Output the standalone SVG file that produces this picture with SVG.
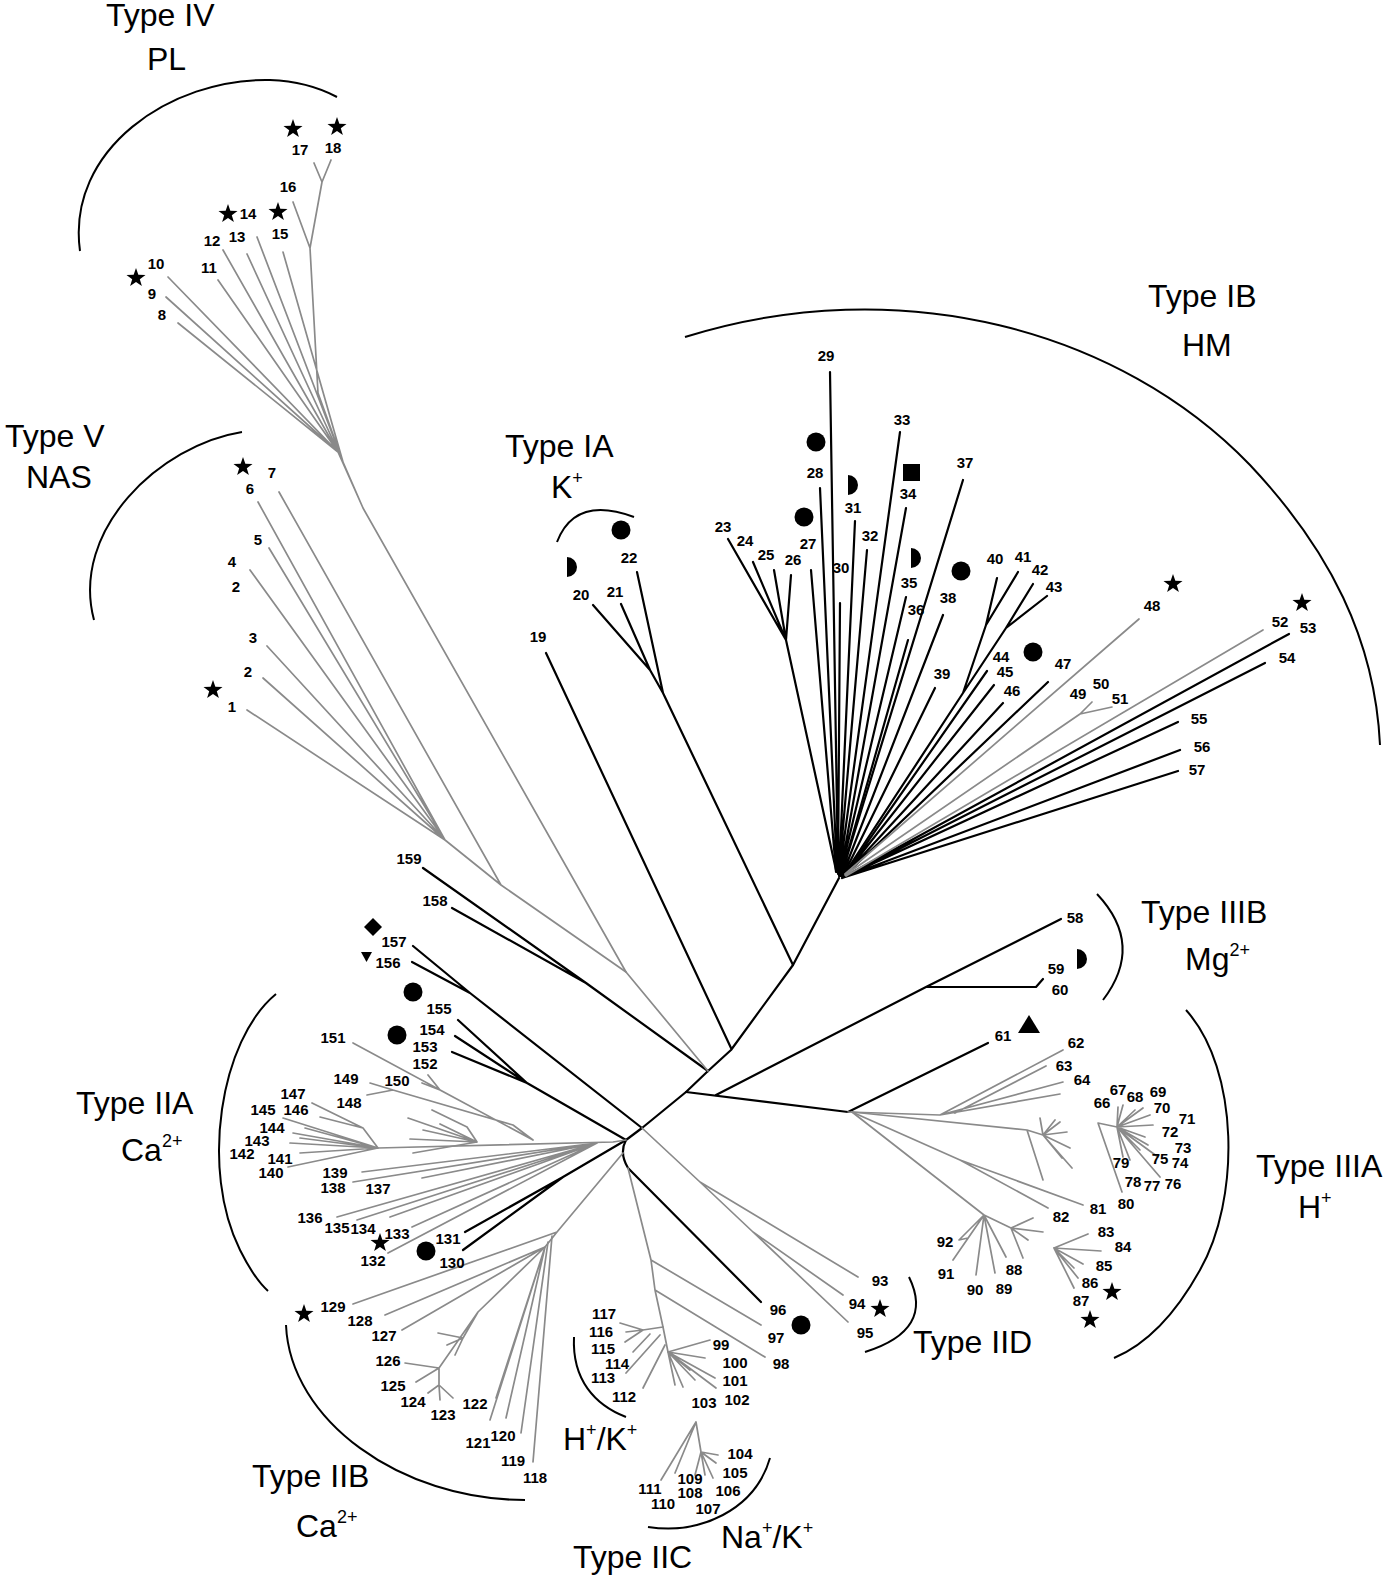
<svg xmlns="http://www.w3.org/2000/svg" width="1388" height="1579" viewBox="0 0 1388 1579">
<style>
.k{fill:none;stroke:#000;stroke-width:2.2;stroke-linecap:round;stroke-linejoin:round}
.g{fill:none;stroke:#8a8a8a;stroke-width:1.7;stroke-linecap:round;stroke-linejoin:round}
.br{fill:none;stroke:#000;stroke-width:2}
.n{font-family:"Liberation Sans",Arial,sans-serif;font-size:15px;font-weight:bold;text-anchor:middle;fill:#000}
.t{font-family:"Liberation Sans",Arial,sans-serif;font-size:32px;fill:#000}
.s{font-size:18px}
</style>
<defs>
<path id="star" d="M0,-10 L2.35,-3.24 L9.51,-3.09 L3.8,1.24 L5.88,8.09 L0,4 L-5.88,8.09 L-3.8,1.24 L-9.51,-3.09 L-2.35,-3.24 Z" fill="#000"/>
<circle id="dot" r="9.5" fill="#000"/>
<path id="half" d="M0,-10 A10,10 0 0 1 0,10 Z" fill="#000"/>
</defs>
<rect width="1388" height="1579" fill="#fff"/>

<g id="connectors">
<!-- backbone -->
<path class="k" d="M839,878 L793,965 L731,1050 L708,1071 L686,1092 L642,1128 L626,1140 Q619,1153 628,1168 L761,1302"/>
<path class="k" d="M686,1092 L848,1112 L988,1043"/>
<path class="k" d="M716,1095 L926,987 L1061,919 M926,987 L1036,987 L1043,979"/>
<path class="k" d="M546,653 L731,1048"/>
<path class="k" d="M663,693 L793,965 M593,605 L650,670 L663,693 M621,604 L650,670 M637,572 L663,693"/>
<path class="k" d="M423,868 L586,983 M452,908 L586,983 L708,1071"/>
<path class="k" d="M413,946 L470,993 M412,962 L470,993 L642,1128"/>
<path class="k" d="M458,1020 L527,1083 M455,1036 L527,1083 M452,1052 L527,1083 L626,1140"/>
<path class="k" d="M465,1232 L563,1177 M463,1250 L563,1177 L626,1140"/>
<!-- IB black -->
<path class="k" d="M728,539 L786,640 M753,562 L786,640 M774,570 L786,640 M791,575 L786,640 L836,870"/>
<path class="k" d="M811,570 L836,872 M820,488 L837,872 M830,372 L838,874 M840,603 L838,874 M855,521 L839,874 M867,550 L839,874 M900,432 L839,876 M906,508 L840,876 M906,597 L840,876 M908,640 L841,876"/>
<path class="k" d="M963,480 L841,876 M943,615 L842,876 M935,688 L843,876"/>
<path class="k" d="M997,578 L986,625 M1018,572 L986,625 M1033,584 L1006,628 M1047,596 L1006,628 M986,625 L963,693 M1006,628 L963,693 L843,876"/>
<path class="k" d="M987,671 L843,877 M994,685 L843,877 M1003,703 L843,877 M1048,682 L843,877"/>
<path class="k" d="M1289,634 L842,878 M1265,663 L842,878 M1178,722 L842,878 M1180,750 L842,878 M1178,771 L842,878"/>
<!-- IB gray -->
<path class="g" d="M1139,619 L845,874 M1092,702 L1080,714 M1112,707 L1080,714 L845,875 M1263,630 L846,876"/>
<!-- Type IV -->
<path class="g" d="M178,323 L338,452 M166,297 L338,452 M168,277 L338,452 M218,280 L338,452 M223,250 L338,452 M247,254 L343,462 M257,237 L343,462 M283,252 L343,462 M293,202 L310,248 M314,163 L322,182 L331,160 M322,182 L310,248 L318,393 L343,462 M338,452 L363,508 M343,462 L363,508 L626,972"/>
<!-- Type V -->
<path class="g" d="M279,492 L501,885 M258,502 L445,840 M269,548 L445,840 M250,570 L445,840 M267,646 L445,840 M263,678 L445,840 M247,710 L445,840 L501,885 L626,972 L708,1071"/>
<!-- IIA -->
<path class="g" d="M378,1148 L613,1142 L626,1140 M353,1043 L533,1140 M428,1075 L440,1090 M422,1083 L440,1090 L533,1140 M370,1083 L393,1090 M367,1095 L393,1090 L513,1125 L533,1140"/>
<path class="g" d="M312,1103 L363,1128 L378,1148 M320,1117 L363,1128 M283,1118 L378,1148 M293,1133 L378,1148 M300,1138 L378,1148 M290,1143 L378,1148 M300,1153 L378,1148 M288,1167 L378,1148 M305,1128 L378,1148"/>
<path class="g" d="M477,1142 L408,1118 M467,1127 L432,1110 M477,1142 L467,1127 M477,1142 L423,1130 M477,1142 L410,1139 M477,1142 L413,1153 M477,1142 L440,1124"/>
<path class="g" d="M362,1172 L597,1143 M353,1182 L597,1143 M422,1178 L597,1143 M337,1217 L597,1143 M357,1220 L597,1143 M390,1217 L597,1143 M412,1227 L597,1143 M388,1253 L597,1143"/>
<!-- IIB -->
<path class="g" d="M623,1153 L557,1232 L353,1304 M557,1232 L545,1247 L385,1315 M545,1247 L402,1330 M545,1247 L478,1312 L463,1338 M438,1333 L463,1338 M447,1345 L463,1338 M455,1355 L463,1338 M478,1312 L439,1368 M405,1363 L439,1368 M416,1382 L439,1368 L439,1385 M428,1393 L439,1385 M440,1400 L439,1385 M453,1398 L439,1385"/>
<path class="g" d="M496,1398 L545,1247 M490,1420 L545,1247 M506,1418 L545,1247 M521,1433 L548,1242 M533,1462 L552,1236"/>
<!-- IIC -->
<path class="g" d="M628,1168 L651,1260 L655,1290 L663,1327 L668,1352 M651,1260 L761,1325 M655,1290 L765,1357"/>
<path class="g" d="M620,1323 L643,1330 L663,1327 M626,1332 L643,1330 M625,1342 L643,1330 M633,1352 L650,1334 M626,1373 L660,1335 M643,1388 L665,1345"/>
<path class="g" d="M668,1352 L710,1340 M668,1352 L705,1358 M668,1352 L715,1378 M668,1352 L716,1388 M668,1352 L675,1385 M668,1352 L683,1387 M668,1352 L695,1380 M668,1352 L690,1370"/>
<path class="g" d="M696,1422 L661,1480 M696,1422 L675,1473 M696,1422 L701,1452 L718,1455 M701,1452 L716,1463 M701,1452 L713,1478 M701,1452 L705,1475 M701,1452 L695,1475"/>
<!-- IID -->
<path class="g" d="M642,1128 L700,1182 L858,1277 M700,1182 L753,1232 L843,1295 M753,1232 L848,1322"/>
<!-- IIIA -->
<path class="g" d="M848,1112 L940,1115 L1063,1050 M955,1113 L1046,1066 M940,1115 L1063,1082 M940,1115 L1060,1094"/>
<path class="g" d="M852,1112 L1027,1130 L1043,1135 M1027,1130 L1043,1180 M1043,1135 L1060,1122 M1043,1135 L1067,1132 M1043,1135 L1070,1148 M1043,1135 L1072,1168 M1043,1135 L1040,1118 M1043,1135 L1055,1120 M1043,1135 L1062,1158"/>
<path class="g" d="M852,1112 L960,1160 L1083,1205 M960,1160 L1048,1208"/>
<path class="g" d="M852,1112 L984,1215 L953,1260 M984,1215 L959,1240 L968,1238 M984,1215 L976,1275 M984,1215 L995,1273 M984,1215 L1006,1257 M984,1215 L1011,1228 L1033,1218 M1011,1228 L1043,1232 M1011,1228 L1028,1240 M1011,1228 L1023,1258"/>
<path class="g" d="M1054,1248 L1088,1234 M1054,1248 L1101,1251 M1054,1248 L1083,1264 M1054,1248 L1074,1268 M1054,1248 L1074,1288 M1054,1248 L1078,1278"/>
<path class="g" d="M1098,1123 L1122,1192 M1098,1123 L1117,1127 L1118,1107 M1117,1127 L1123,1105 M1117,1127 L1143,1108 M1117,1127 L1153,1125 M1117,1127 L1145,1137 M1117,1127 L1158,1157 M1117,1127 L1160,1177 M1117,1127 L1140,1150 M1117,1127 L1130,1160 M1117,1127 L1123,1157 M1117,1127 L1135,1110 M1117,1127 L1150,1115 M1117,1127 L1148,1145"/>
</g>

<g id="brackets">
<path class="br" d="M80,251 C66,150 170,78 270,80 C300,81 320,88 337,97"/>
<path class="br" d="M242,432 C160,445 70,530 94,620"/>
<path class="br" d="M557,542 Q575,495 634,517"/>
<path class="br" d="M685,337 C900,270 1120,330 1250,465 C1330,550 1375,640 1380,745"/>
<path class="br" d="M1097,894 Q1145,945 1103,1000"/>
<path class="br" d="M1186,1010 C1240,1070 1240,1200 1200,1270 C1175,1315 1145,1345 1114,1358"/>
<path class="br" d="M909,1277 Q935,1330 865,1352"/>
<path class="br" d="M276,994 C220,1040 200,1170 240,1250 C250,1270 258,1282 268,1291"/>
<path class="br" d="M286,1325 C290,1420 400,1500 525,1500"/>
<path class="br" d="M574,1337 C572,1380 595,1405 626,1417"/>
<path class="br" d="M770,1458 C755,1510 700,1535 648,1527"/>
</g>

<g id="clade-IV">
<text class="t" x="106" y="26">Type IV</text>
<text class="t" x="147" y="70">PL</text>
<use href="#star" x="293" y="129"/><use href="#star" x="337" y="127"/><use href="#star" x="228" y="214"/><use href="#star" x="278" y="212"/><use href="#star" x="136" y="278"/>
<text class="n" x="162" y="320">8</text><text class="n" x="152" y="299">9</text><text class="n" x="156" y="269">10</text><text class="n" x="209" y="273">11</text><text class="n" x="212" y="246">12</text><text class="n" x="237" y="242">13</text><text class="n" x="248" y="219">14</text><text class="n" x="280" y="239">15</text><text class="n" x="288" y="192">16</text><text class="n" x="300" y="155">17</text><text class="n" x="333" y="153">18</text>
</g>

<g id="clade-V">
<text class="t" x="5" y="447">Type V</text>
<text class="t" x="26" y="488">NAS</text>
<use href="#star" x="243" y="467"/><use href="#star" x="213" y="690"/>
<text class="n" x="232" y="712">1</text><text class="n" x="248" y="677">2</text><text class="n" x="253" y="643">3</text><text class="n" x="236" y="592">2</text><text class="n" x="232" y="567">4</text><text class="n" x="258" y="545">5</text><text class="n" x="250" y="494">6</text><text class="n" x="272" y="478">7</text>
</g>

<g id="clade-IA">
<text class="t" x="505" y="457">Type IA</text>
<text class="t" x="551" y="498">K<tspan class="s" dy="-14">+</tspan></text>
<use href="#dot" x="621" y="530"/><use href="#half" x="567" y="567"/>
<text class="n" x="538" y="642">19</text><text class="n" x="581" y="600">20</text><text class="n" x="615" y="597">21</text><text class="n" x="629" y="563">22</text>
</g>

<g id="clade-IB">
<text class="t" x="1148" y="307">Type IB</text>
<text class="t" x="1182" y="356">HM</text>
<use href="#dot" x="816" y="442"/><use href="#dot" x="804" y="517"/><use href="#dot" x="961" y="571"/><use href="#dot" x="1033" y="652"/>
<use href="#half" x="848" y="485"/><use href="#half" x="911" y="558"/>
<rect x="903" y="464" width="17" height="17" fill="#000"/>
<use href="#star" x="1173" y="584"/><use href="#star" x="1302" y="603"/>
<text class="n" x="723" y="532">23</text><text class="n" x="745" y="546">24</text><text class="n" x="766" y="560">25</text><text class="n" x="793" y="565">26</text><text class="n" x="808" y="549">27</text><text class="n" x="815" y="478">28</text><text class="n" x="826" y="361">29</text><text class="n" x="841" y="573">30</text><text class="n" x="853" y="513">31</text><text class="n" x="870" y="541">32</text><text class="n" x="902" y="425">33</text><text class="n" x="908" y="499">34</text><text class="n" x="909" y="588">35</text><text class="n" x="916" y="615">36</text><text class="n" x="965" y="468">37</text><text class="n" x="948" y="603">38</text><text class="n" x="942" y="679">39</text><text class="n" x="995" y="564">40</text><text class="n" x="1023" y="562">41</text><text class="n" x="1040" y="575">42</text><text class="n" x="1054" y="592">43</text><text class="n" x="1001" y="662">44</text><text class="n" x="1005" y="677">45</text><text class="n" x="1012" y="696">46</text><text class="n" x="1063" y="669">47</text><text class="n" x="1152" y="611">48</text><text class="n" x="1078" y="699">49</text><text class="n" x="1101" y="689">50</text><text class="n" x="1120" y="704">51</text><text class="n" x="1280" y="627">52</text><text class="n" x="1308" y="633">53</text><text class="n" x="1287" y="663">54</text><text class="n" x="1199" y="724">55</text><text class="n" x="1202" y="752">56</text><text class="n" x="1197" y="775">57</text>
</g>

<g id="clade-IIIB">
<text class="t" x="1141" y="923">Type IIIB</text>
<text class="t" x="1185" y="970">Mg<tspan class="s" dy="-14">2+</tspan></text>
<use href="#half" x="1077" y="959"/>
<text class="n" x="1075" y="923">58</text><text class="n" x="1056" y="974">59</text><text class="n" x="1060" y="995">60</text>
</g>

<g id="clade-IIIA">
<text class="t" x="1256" y="1177">Type IIIA</text>
<text class="t" x="1298" y="1218">H<tspan class="s" dy="-14">+</tspan></text>
<path d="M1029,1015 L1040,1033 L1018,1033 Z" fill="#000"/>
<use href="#star" x="1112" y="1292"/><use href="#star" x="1090" y="1320"/>
<text class="n" x="1003" y="1041">61</text><text class="n" x="1076" y="1048">62</text><text class="n" x="1064" y="1071">63</text><text class="n" x="1082" y="1085">64</text><text class="n" x="1102" y="1108">66</text><text class="n" x="1118" y="1095">67</text><text class="n" x="1135" y="1102">68</text><text class="n" x="1158" y="1097">69</text><text class="n" x="1162" y="1113">70</text><text class="n" x="1187" y="1124">71</text><text class="n" x="1170" y="1137">72</text><text class="n" x="1183" y="1153">73</text><text class="n" x="1180" y="1168">74</text><text class="n" x="1160" y="1164">75</text><text class="n" x="1173" y="1189">76</text><text class="n" x="1152" y="1191">77</text><text class="n" x="1133" y="1187">78</text><text class="n" x="1121" y="1168">79</text><text class="n" x="1126" y="1209">80</text><text class="n" x="1098" y="1214">81</text><text class="n" x="1061" y="1222">82</text><text class="n" x="1106" y="1237">83</text><text class="n" x="1123" y="1252">84</text><text class="n" x="1104" y="1271">85</text><text class="n" x="1090" y="1288">86</text><text class="n" x="1081" y="1306">87</text><text class="n" x="1014" y="1275">88</text><text class="n" x="1004" y="1294">89</text><text class="n" x="975" y="1295">90</text><text class="n" x="946" y="1279">91</text><text class="n" x="945" y="1247">92</text>
</g>

<g id="clade-IID">
<text class="t" x="913" y="1353">Type IID</text>
<use href="#star" x="880" y="1309"/><use href="#dot" x="801" y="1325"/>
<text class="n" x="880" y="1286">93</text><text class="n" x="857" y="1309">94</text><text class="n" x="865" y="1338">95</text><text class="n" x="778" y="1315">96</text><text class="n" x="776" y="1343">97</text><text class="n" x="781" y="1369">98</text>
</g>

<g id="clade-IIC">
<text class="t" x="573" y="1568">Type IIC</text>
<text class="t" x="563" y="1450">H<tspan class="s" dy="-14">+</tspan><tspan dy="14">/K</tspan><tspan class="s" dy="-14">+</tspan></text>
<text class="t" x="721" y="1548">Na<tspan class="s" dy="-14">+</tspan><tspan dy="14">/K</tspan><tspan class="s" dy="-14">+</tspan></text>
<text class="n" x="721" y="1350">99</text><text class="n" x="735" y="1368">100</text><text class="n" x="735" y="1386">101</text><text class="n" x="737" y="1405">102</text><text class="n" x="704" y="1408">103</text><text class="n" x="740" y="1459">104</text><text class="n" x="735" y="1478">105</text><text class="n" x="728" y="1496">106</text><text class="n" x="708" y="1514">107</text><text class="n" x="690" y="1498">108</text><text class="n" x="690" y="1484">109</text><text class="n" x="663" y="1509">110</text><text class="n" x="650" y="1494">111</text><text class="n" x="624" y="1402">112</text><text class="n" x="603" y="1383">113</text><text class="n" x="617" y="1369">114</text><text class="n" x="603" y="1354">115</text><text class="n" x="601" y="1337">116</text><text class="n" x="604" y="1319">117</text>
</g>

<g id="clade-IIB">
<text class="t" x="252" y="1487">Type IIB</text>
<text class="t" x="296" y="1537">Ca<tspan class="s" dy="-14">2+</tspan></text>
<use href="#star" x="304" y="1314"/>
<text class="n" x="535" y="1483">118</text><text class="n" x="513" y="1466">119</text><text class="n" x="503" y="1441">120</text><text class="n" x="478" y="1448">121</text><text class="n" x="475" y="1409">122</text><text class="n" x="443" y="1420">123</text><text class="n" x="413" y="1407">124</text><text class="n" x="393" y="1391">125</text><text class="n" x="388" y="1366">126</text><text class="n" x="384" y="1341">127</text><text class="n" x="360" y="1326">128</text><text class="n" x="333" y="1312">129</text>
</g>

<g id="clade-IIA">
<text class="t" x="76" y="1114">Type IIA</text>
<text class="t" x="121" y="1161">Ca<tspan class="s" dy="-14">2+</tspan></text>
<use href="#star" x="380" y="1243"/><use href="#dot" x="426" y="1251"/><use href="#dot" x="413" y="992"/><use href="#dot" x="397" y="1035"/>
<path d="M373,918 L382,927 L373,936 L364,927 Z" fill="#000"/>
<path d="M361,952 L372,952 L366.5,962 Z" fill="#000"/>
<text class="n" x="452" y="1268">130</text><text class="n" x="448" y="1244">131</text><text class="n" x="373" y="1266">132</text><text class="n" x="397" y="1239">133</text><text class="n" x="363" y="1234">134</text><text class="n" x="337" y="1233">135</text><text class="n" x="310" y="1223">136</text><text class="n" x="378" y="1194">137</text><text class="n" x="333" y="1193">138</text><text class="n" x="335" y="1178">139</text><text class="n" x="271" y="1178">140</text><text class="n" x="280" y="1164">141</text><text class="n" x="242" y="1159">142</text><text class="n" x="257" y="1146">143</text><text class="n" x="272" y="1133">144</text><text class="n" x="263" y="1115">145</text><text class="n" x="296" y="1115">146</text><text class="n" x="293" y="1099">147</text><text class="n" x="349" y="1108">148</text><text class="n" x="346" y="1084">149</text><text class="n" x="397" y="1086">150</text><text class="n" x="333" y="1043">151</text><text class="n" x="425" y="1069">152</text><text class="n" x="425" y="1052">153</text><text class="n" x="432" y="1035">154</text><text class="n" x="439" y="1014">155</text><text class="n" x="388" y="968">156</text><text class="n" x="394" y="947">157</text><text class="n" x="435" y="906">158</text><text class="n" x="409" y="864">159</text>
</g>
</svg>
